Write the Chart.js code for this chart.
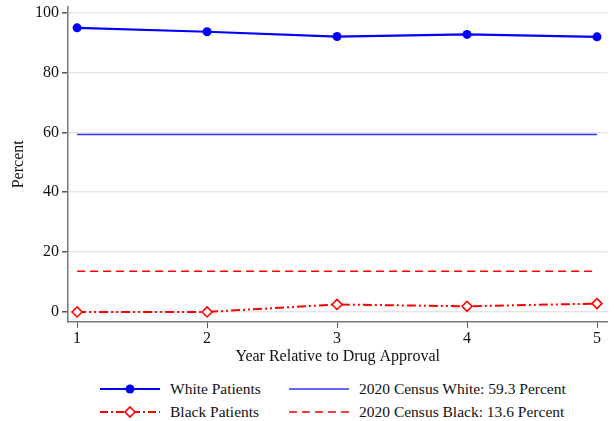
<!DOCTYPE html>
<html><head><meta charset="utf-8">
<script src="https://cdn.jsdelivr.net/npm/chart.js@4"></script>
<style>
html,body{margin:0;padding:0;background:#fff;}
#wrap{position:relative;width:614px;height:421px;font-family:"Liberation Serif","Times New Roman",serif;}
#cv{position:absolute;left:0;top:0;}
.leg{position:absolute;font-size:15.5px;color:#111;white-space:nowrap;line-height:18px;}
.sw{position:absolute;}
</style></head><body>
<div id="wrap">
<div style="position:absolute;left:0;top:0;width:614px;height:366px;"><canvas id="cv" width="614" height="366"></canvas></div>
<svg class="sw" style="left:100px;top:380px" width="62" height="40">
 <line x1="0" y1="9" x2="60" y2="9" stroke="#0000ff" stroke-width="2.2"/>
 <circle cx="30" cy="9" r="4.5" fill="#0000ff"/>
 <line x1="0" y1="32" x2="60" y2="32" stroke="#ff0000" stroke-width="2" stroke-dasharray="8,3,2,3"/>
 <polygon points="30,27 35,32 30,37 25,32" fill="#fff" stroke="#ff0000" stroke-width="1.6"/>
</svg>
<svg class="sw" style="left:289px;top:380px" width="62" height="40">
 <line x1="0" y1="9" x2="60" y2="9" stroke="#3333ff" stroke-width="1.6"/>
 <line x1="0" y1="32" x2="60" y2="32" stroke="#ff0000" stroke-width="1.6" stroke-dasharray="8,5"/>
</svg>
<div class="leg" style="left:170px;top:380px">White Patients</div>
<div class="leg" style="left:170px;top:403px">Black Patients</div>
<div class="leg" style="left:359px;top:380px">2020 Census White: 59.3 Percent</div>
<div class="leg" style="left:359px;top:403px">2020 Census Black: 13.6 Percent</div>
</div>
<script>
const years = [1, 2, 3, 4, 5];
const whitePatients = [94.9, 93.6, 92.0, 92.7, 91.9];
const blackPatients = [0.0, 0.0, 2.5, 1.9, 2.8];
const censusWhite = 59.3;
const censusBlack = 13.6;
const yTicks = [0, 20, 40, 60, 80, 100];
const xTicks = [1, 2, 3, 4, 5];

const pts = (xs, ys) => xs.map((x, i) => ({x: x, y: ys[i]}));
const flat = (v) => [{x: years[0], y: v}, {x: years[years.length-1], y: v}];
const font = {family: '"Liberation Serif","Times New Roman",serif', size: 16};

new Chart(document.getElementById('cv'), {
  type: 'line',
  data: {
    datasets: [
      {label: '2020 Census White: 59.3 Percent', data: flat(censusWhite), borderColor: '#3333ff', borderWidth: 1.6, pointRadius: 0},
      {label: '2020 Census Black: 13.6 Percent', data: flat(censusBlack), borderColor: '#ff0000', borderWidth: 1.6, borderDash: [8, 5], pointRadius: 0},
      {label: 'White Patients', data: pts(years, whitePatients), borderColor: '#0000ff', backgroundColor: '#0000ff', borderWidth: 2.2, pointRadius: 4.5, pointStyle: 'circle', pointBackgroundColor: '#0000ff', pointBorderWidth: 0},
      {label: 'Black Patients', data: pts(years, blackPatients), borderColor: '#ff0000', borderWidth: 2, borderDash: [9, 3, 2, 3, 2, 3], pointRadius: 5, pointStyle: 'rectRot', pointBackgroundColor: '#ffffff', pointBorderColor: '#ff0000', pointBorderWidth: 1.6}
    ]
  },
  options: {
    responsive: false, animation: false,
    layout: {padding: {left: 0, right: 0, top: 0, bottom: 0}},
    plugins: {legend: {display: false}, tooltip: {enabled: false}},
    scales: {
      x: {
        type: 'linear', min: 0.93, max: 5.08,
        afterBuildTicks: s => { s.ticks = xTicks.map(v => ({value: v})); },
        afterFit: s => { s.height = 44; s.paddingLeft = 0; s.paddingRight = 0; },
        grid: {drawOnChartArea: false, drawTicks: true, tickLength: 6, tickColor: '#555'},
        border: {color: '#777', width: 1.5},
        ticks: {font: font, color: '#111', padding: 1, maxRotation: 0},
        title: {display: true, text: 'Year Relative to Drug Approval', font: font, color: '#111', padding: {top: 0, bottom: 0}}
      },
      y: {
        min: -3.35, max: 102,
        afterBuildTicks: s => { s.ticks = yTicks.map(v => ({value: v})); },
        afterFit: s => { s.width = 68; s.paddingTop = 0; s.paddingBottom = 0; },
        grid: {color: '#e6e6e6', lineWidth: 1.5, tickLength: 6, tickColor: '#555'},
        border: {color: '#777', width: 1.5},
        ticks: {font: font, color: '#111', padding: 3},
        title: {display: true, text: 'Percent', font: font, color: '#111', padding: {top: 9, bottom: 0}}
      }
    }
  }
});
</script>
</body></html>
